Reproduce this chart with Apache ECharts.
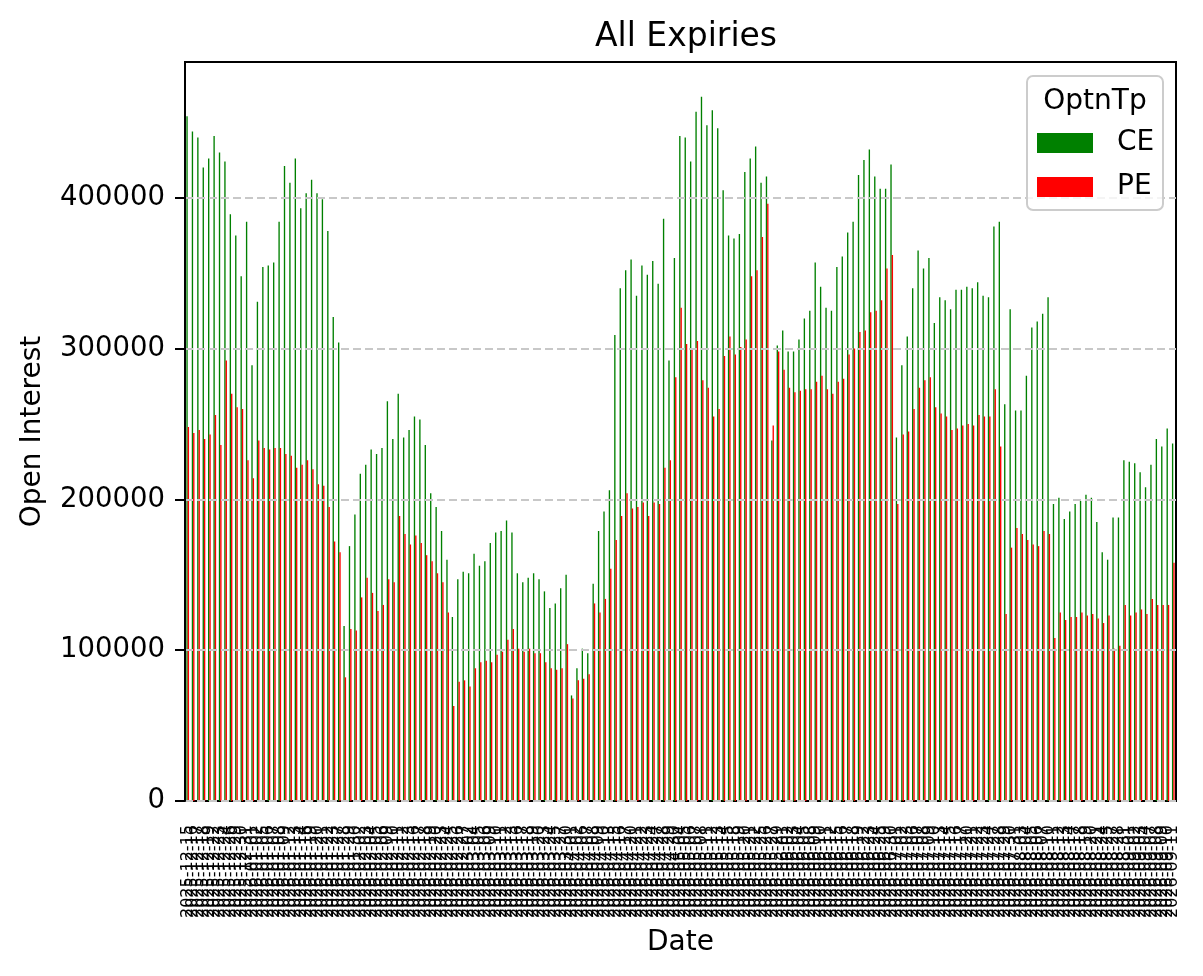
<!DOCTYPE html>
<html>
<head>
<meta charset="utf-8">
<title>All Expiries</title>
<script src="https://cdn.jsdelivr.net/npm/echarts@6/dist/echarts.min.js"></script>
<style>
  html, body { margin: 0; padding: 0; background: #fff; }
  #main { width: 1203px; height: 976px; }
</style>
</head>
<body>
<div id="main"></div>
<script>
// trading dates on the x axis
var dates = [
  '2025-12-15','2025-12-16','2025-12-17','2025-12-18','2025-12-19','2025-12-22','2025-12-23','2025-12-24','2025-12-26','2025-12-29','2025-12-30','2025-12-31',
  '2026-01-01','2026-01-02','2026-01-05','2026-01-06','2026-01-07','2026-01-08','2026-01-09','2026-01-12','2026-01-13','2026-01-14','2026-01-16','2026-01-19','2026-01-20','2026-01-21','2026-01-22','2026-01-23','2026-01-27','2026-01-28','2026-01-29','2026-01-30',
  '2026-02-02','2026-02-03','2026-02-04','2026-02-05','2026-02-06','2026-02-09','2026-02-10','2026-02-11','2026-02-12','2026-02-13','2026-02-16','2026-02-17','2026-02-18','2026-02-19','2026-02-20','2026-02-23','2026-02-24','2026-02-25','2026-02-26','2026-02-27',
  '2026-03-02','2026-03-04','2026-03-05','2026-03-06','2026-03-09','2026-03-10','2026-03-11','2026-03-12','2026-03-13','2026-03-16','2026-03-17','2026-03-18','2026-03-19','2026-03-20','2026-03-23','2026-03-24','2026-03-25','2026-03-27','2026-03-30',
  '2026-04-01','2026-04-02','2026-04-06','2026-04-07','2026-04-08','2026-04-09','2026-04-10','2026-04-13','2026-04-15','2026-04-16','2026-04-17','2026-04-20','2026-04-21','2026-04-22','2026-04-23','2026-04-24','2026-04-27','2026-04-28','2026-04-29','2026-04-30',
  '2026-05-04','2026-05-05','2026-05-06','2026-05-07','2026-05-08','2026-05-11','2026-05-12','2026-05-13','2026-05-14','2026-05-15','2026-05-18','2026-05-19','2026-05-20','2026-05-21','2026-05-22','2026-05-25','2026-05-26','2026-05-27','2026-05-29',
  '2026-06-01','2026-06-02','2026-06-03','2026-06-04','2026-06-05','2026-06-08','2026-06-09','2026-06-10','2026-06-11','2026-06-12','2026-06-15','2026-06-16','2026-06-17','2026-06-18','2026-06-19','2026-06-22','2026-06-23','2026-06-24','2026-06-25','2026-06-29','2026-06-30',
  '2026-07-01','2026-07-02','2026-07-03','2026-07-06','2026-07-07','2026-07-08','2026-07-09','2026-07-10','2026-07-13','2026-07-14','2026-07-15','2026-07-16','2026-07-17','2026-07-20','2026-07-21','2026-07-22','2026-07-23','2026-07-24','2026-07-27','2026-07-28','2026-07-29','2026-07-30','2026-07-31',
  '2026-08-03','2026-08-04','2026-08-05','2026-08-06','2026-08-07','2026-08-10','2026-08-11','2026-08-12','2026-08-13','2026-08-14','2026-08-17','2026-08-18','2026-08-19','2026-08-20','2026-08-21','2026-08-24','2026-08-25','2026-08-27','2026-08-28','2026-08-31',
  '2026-09-01','2026-09-02','2026-09-03','2026-09-04','2026-09-07','2026-09-08','2026-09-09','2026-09-10','2026-09-11'
]

// call open interest
var ceOI = [
  454000, 444000, 440000, 420000, 426000, 441000, 430000, 424000, 389000, 375000,
  348000, 384000, 289000, 331000, 354000, 355000, 357000, 384000, 421000, 410000,
  426000, 393000, 403000, 412000, 403000, 399000, 378000, 321000, 304000, 116000,
  169000, 190000, 217000, 223000, 233000, 230000, 234000, 265000, 240000, 270000,
  241000, 246000, 255000, 253000, 236000, 204000, 195000, 179000, 160000, 122000,
  147000, 152000, 151000, 164000, 156000, 159000, 171000, 178000, 179000, 186000,
  178000, 151000, 145000, 148000, 151000, 147000, 139000, 128000, 131000, 141000,
  150000, 70000, 88000, 101000, 98000, 144000, 179000, 192000, 206000, 309000,
  340000, 352000, 359000, 335000, 355000, 349000, 358000, 343000, 386000, 292000,
  360000, 441000, 440000, 424000, 457000, 467000, 448000, 458000, 446000, 405000,
  375000, 373000, 376000, 417000, 426000, 434000, 410000, 414000, 239000, 302000,
  312000, 298000, 298000, 306000, 320000, 325000, 357000, 341000, 327000, 325000,
  354000, 361000, 377000, 384000, 415000, 425000, 432000, 414000, 406000, 406000,
  422000, 241000, 289000, 308000, 340000, 365000, 353000, 360000, 317000, 334000,
  332000, 326000, 339000, 339000, 341000, 340000, 344000, 335000, 334000, 381000,
  384000, 263000, 326000, 259000, 259000, 282000, 314000, 318000, 323000, 334000,
  197000, 201000, 187000, 192000, 197000, 199000, 203000, 201000, 185000, 165000,
  160000, 188000, 188000, 226000, 225000, 224000, 218000, 208000, 223000, 240000,
  235000, 247000, 237000
]

// put open interest
var peOI = [
  248000, 244000, 246000, 240000, 243000, 256000, 236000, 292000, 270000, 261000,
  260000, 226000, 214000, 239000, 234000, 233000, 234000, 234000, 230000, 229000,
  221000, 223000, 226000, 220000, 210000, 209000, 195000, 172000, 165000, 82000,
  114000, 113000, 135000, 148000, 138000, 126000, 130000, 147000, 145000, 189000,
  177000, 170000, 176000, 171000, 163000, 159000, 151000, 145000, 125000, 63000,
  79000, 80000, 76000, 88000, 92000, 93000, 92000, 97000, 99000, 107000,
  114000, 101000, 99000, 101000, 98000, 98000, 92000, 88000, 87000, 88000,
  104000, 68000, 80000, 81000, 84000, 131000, 125000, 134000, 154000, 173000,
  189000, 204000, 194000, 195000, 198000, 189000, 198000, 197000, 221000, 226000,
  281000, 327000, 303000, 299000, 305000, 279000, 274000, 255000, 260000, 295000,
  308000, 296000, 301000, 306000, 348000, 352000, 374000, 396000, 249000, 298000,
  286000, 274000, 271000, 272000, 273000, 273000, 278000, 282000, 273000, 270000,
  278000, 280000, 296000, 300000, 311000, 312000, 324000, 325000, 332000, 353000,
  362000, 197000, 243000, 245000, 260000, 274000, 279000, 281000, 261000, 257000,
  255000, 246000, 247000, 249000, 250000, 249000, 256000, 255000, 255000, 273000,
  235000, 124000, 168000, 181000, 177000, 173000, 170000, 169000, 179000, 177000,
  108000, 125000, 120000, 122000, 122000, 125000, 123000, 124000, 121000, 118000,
  123000, 101000, 103000, 130000, 123000, 125000, 127000, 124000, 134000, 130000,
  130000, 130000, 158000
]

var yTicks = [0, 100000, 200000, 300000, 400000]

var font = 'DejaVu Sans'
var myChart = echarts.init(document.getElementById('main'))

var option = {
  animation: false,
  backgroundColor: '#fff',
  textStyle: { fontFamily: font, color: '#000' },
  title: {
    text: 'All Expiries',
    left: 681,
    top: 16,
    textAlign: 'center',
    textStyle: { fontFamily: font, fontSize: 33, fontWeight: 'normal', color: '#000' }
  },
  grid: {
    left: 185,
    right: 27,
    top: 62,
    bottom: 175,
    show: true,
    borderColor: '#000',
    borderWidth: 2,
    backgroundColor: 'transparent'
  },
  legend: {
    data: ['CE', 'PE'],
    orient: 'vertical',
    left: 1037,
    top: 129,
    padding: 0,
    itemWidth: 56,
    itemHeight: 20,
    itemGap: 16,
    icon: 'rect',
    z: 6,
    textStyle: { fontFamily: font, fontSize: 28, color: '#000', padding: [0, 0, 0, 19] }
  },
  // legend frame and its title
  graphic: [
    {
      type: 'rect',
      z: 5,
      shape: { x: 1027, y: 76, width: 136, height: 134, r: 6 },
      style: { fill: 'rgba(255,255,255,0.8)', stroke: '#cccccc', lineWidth: 2 }
    },
    {
      type: 'text',
      z: 6,
      style: {
        x: 1095, y: 102, text: 'OptnTp',
        font: '28px "DejaVu Sans"', fill: '#000',
        align: 'center', verticalAlign: 'middle',
        textAlign: 'center', textVerticalAlign: 'middle'
      }
    }
  ],
  xAxis: {
    type: 'category',
    data: dates,
    name: 'Date',
    nameLocation: 'middle',
    nameGap: 128,
    nameTextStyle: { fontFamily: font, fontSize: 28, color: '#000' },
    axisLine: { lineStyle: { color: '#000', width: 2 } },
    axisTick: { alignWithLabel: true, interval: 0, length: 10, lineStyle: { color: '#000', width: 2 } },
    axisLabel: { interval: 0, rotate: 90, margin: 24, fontFamily: font, fontSize: 16, color: '#000' }
  },
  yAxis: {
    type: 'value',
    min: 0,
    max: 490000,
    interval: 100000,
    z: 3,
    name: 'Open Interest',
    nameLocation: 'middle',
    nameGap: 138,
    nameTextStyle: { fontFamily: font, fontSize: 28, color: '#000' },
    axisLine: { show: true, lineStyle: { color: '#000', width: 2 } },
    axisTick: { show: true, length: 10, customValues: yTicks, lineStyle: { color: '#000', width: 2 } },
    axisLabel: {
      margin: 20, fontFamily: font, fontSize: 27.5, color: '#000',
      customValues: yTicks,
      formatter: function (v) { return String(v) }
    },
    splitLine: { show: true, lineStyle: { color: '#c8c8c8', width: 2, type: [8, 4] } }
  },
  series: [
    {
      name: 'CE',
      type: 'bar',
      data: ceOI,
      barWidth: '25%',
      barGap: '0%',
      itemStyle: { color: '#008000' }
    },
    {
      name: 'PE',
      type: 'bar',
      data: peOI,
      barWidth: '25%',
      itemStyle: { color: '#ff0000' }
    }
  ]
}
myChart.setOption(option)
</script>
</body>
</html>
